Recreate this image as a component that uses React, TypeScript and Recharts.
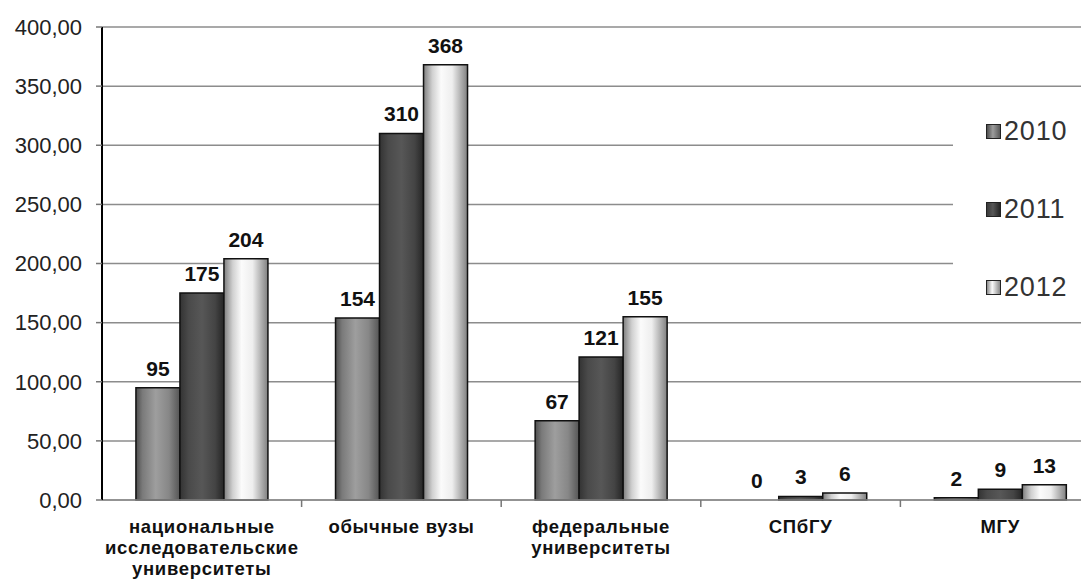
import React from 'react';
import { BarChart, Bar, XAxis, YAxis, CartesianGrid, Legend, LabelList, Cell } from 'recharts';

const categories = [
  'национальные\nисследовательские\nуниверситеты',
  'обычные вузы',
  'федеральные\nуниверситеты',
  'СПбГУ',
  'МГУ',
];
const values2010 = [95, 154, 67, 0, 2];
const values2011 = [175, 310, 121, 3, 9];
const values2012 = [204, 368, 155, 6, 13];
const seriesNames = ['2010', '2011', '2012'];
const yTicks = [0, 50, 100, 150, 200, 250, 300, 350, 400];

const data = categories.map((c, i) => ({
  cat: c,
  v2010: values2010[i],
  v2011: values2011[i],
  v2012: values2012[i],
}));

const FONT = '"Liberation Sans", Arial, sans-serif';

const legendBg = [
  'linear-gradient(90deg,#4e4e4e,#9c9c9c 45%,#5a5a5a)',
  'linear-gradient(90deg,#3a3a3a,#575757 45%,#262626)',
  'linear-gradient(90deg,#8a8a8a,#fafafa 40%,#8a8a8a)',
];

const CatTick = (props: any) => {
  const { x, y, payload, width, visibleTicksCount, index } = props;
  const lines = String(payload.value).split('\n');
  const band = width / (visibleTicksCount || 5);
  const axisY = y - 2;
  return (
    <g>
      {index > 0 && (
        <line x1={x - band / 2} x2={x - band / 2} y1={axisY} y2={axisY + 7} stroke="#777" strokeWidth={1.5} />
      )}
      {lines.map((l: string, i: number) => (
        <text
          key={i}
          x={x}
          y={axisY + 33 + i * 21}
          textAnchor="middle"
          fontFamily={FONT}
          fontWeight="bold"
          fontSize={18.5}
          letterSpacing={0.7}
          fill="#111"
        >
          {l}
        </text>
      ))}
    </g>
  );
};

const LegendContent = () => (
  <div style={{ fontFamily: FONT }}>
    {seriesNames.map((n, i) => (
      <div key={n} style={{ height: 78, display: 'flex', alignItems: 'center', paddingLeft: 33 }}>
        <div
          style={{
            width: 13,
            height: 13,
            border: '1px solid #222',
            background: legendBg[i],
            marginRight: 3,
          }}
        />
        <span style={{ fontSize: 27, color: '#333', lineHeight: '27px', letterSpacing: 0.8 }}>{n}</span>
      </div>
    ))}
  </div>
);

const minSize = (v: number) => (v === 0 ? 0.01 : 0);

export default function App() {
  return (
    <div
      style={{
        position: 'absolute',
        left: 0,
        top: 0,
        width: 1081,
        height: 579,
        overflow: 'hidden',
        background: '#fff',
      }}
    >
      <BarChart
        width={1110}
        height={579}
        data={data}
        margin={{ top: 27, right: 10, left: 0, bottom: 0 }}
        barCategoryGap="17%"
        barGap={0}
      >
        <defs>
          <linearGradient id="g2010" x1="0" y1="0" x2="1" y2="0">
            <stop offset="0" stopColor="#4e4e4e" />
            <stop offset="0.15" stopColor="#7a7a7a" />
            <stop offset="0.45" stopColor="#9e9e9e" />
            <stop offset="0.75" stopColor="#878787" />
            <stop offset="1" stopColor="#555" />
          </linearGradient>
          <linearGradient id="g2011" x1="0" y1="0" x2="1" y2="0">
            <stop offset="0" stopColor="#333" />
            <stop offset="0.2" stopColor="#4a4a4a" />
            <stop offset="0.5" stopColor="#575757" />
            <stop offset="0.8" stopColor="#444" />
            <stop offset="1" stopColor="#252525" />
          </linearGradient>
          <linearGradient id="g2012" x1="0" y1="0" x2="1" y2="0">
            <stop offset="0" stopColor="#7e7e7e" />
            <stop offset="0.2" stopColor="#d0d0d0" />
            <stop offset="0.4" stopColor="#fbfbfb" />
            <stop offset="0.65" stopColor="#eeeeee" />
            <stop offset="1" stopColor="#808080" />
          </linearGradient>
        </defs>
        <CartesianGrid vertical={false} stroke="#8c8c8c" strokeWidth={1.5} />
        <XAxis
          dataKey="cat"
          height={79}
          interval={0}
          tickLine={false}
          tickSize={0}
          tickMargin={2}
          axisLine={{ stroke: '#8c8c8c', strokeWidth: 1.5 }}
          tick={<CatTick />}
        />
        <YAxis
          width={102}
          domain={[0, 400]}
          ticks={yTicks}
          interval={0}
          tickSize={6}
          tickMargin={14}
          axisLine={{ stroke: '#000', strokeWidth: 2 }}
          tickLine={{ stroke: '#777', strokeWidth: 1.5 }}
          tickFormatter={(v: number) => v.toFixed(2).replace('.', ',')}
          tick={{ fontFamily: FONT, fontSize: 22, fill: '#222' }}
        />
        <Legend
          layout="vertical"
          align="center"
          verticalAlign="middle"
          content={<LegendContent />}
          wrapperStyle={{ left: 953, top: 92, width: 140, height: 226, overflow: 'hidden', background: '#fff' }}
        />
        <Bar dataKey="v2010" name="2010" fill="url(#g2010)" stroke="#111" strokeWidth={1.5} minPointSize={minSize} isAnimationActive={false}>
          {values2010.map((v, i) => (
            <Cell key={i} stroke={v === 0 ? 'none' : '#111'} />
          ))}
          <LabelList dataKey="v2010" position="top" offset={12} fontFamily={FONT} fontWeight="bold" fontSize={21} fill="#111" />
        </Bar>
        <Bar dataKey="v2011" name="2011" fill="url(#g2011)" stroke="#111" strokeWidth={1.5} minPointSize={minSize} isAnimationActive={false}>
          <LabelList dataKey="v2011" position="top" offset={12} fontFamily={FONT} fontWeight="bold" fontSize={21} fill="#111" />
        </Bar>
        <Bar dataKey="v2012" name="2012" fill="url(#g2012)" stroke="#111" strokeWidth={1.5} minPointSize={minSize} isAnimationActive={false}>
          <LabelList dataKey="v2012" position="top" offset={12} fontFamily={FONT} fontWeight="bold" fontSize={21} fill="#111" />
        </Bar>
      </BarChart>
    </div>
  );
}
